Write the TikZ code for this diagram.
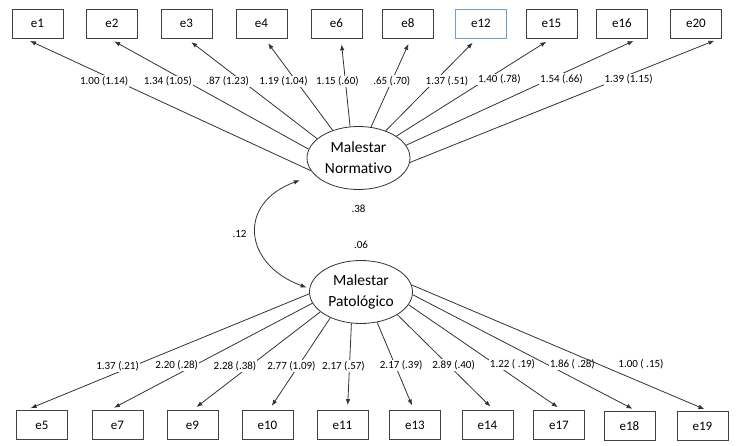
\documentclass[tikz,border=0pt]{standalone}
\usepackage{fontspec}
\setmainfont{Carlito}[Ligatures=NoCommon]
\usetikzlibrary{arrows.meta,positioning,shapes.geometric}
\definecolor{boxblue}{RGB}{110,160,205}

\begin{document}
\begin{tikzpicture}[x=1pt,y=-1pt,line width=.8pt,draw=black!80,>={Latex[length=6pt,width=4.5pt]},
err node/.style={rectangle,draw=black!75,minimum width=51pt,minimum height=29pt,inner sep=0pt,font=\fontsize{13}{15}\selectfont},
lat node/.style={ellipse,draw=black!80,minimum width=103pt,minimum height=63pt,inner sep=0pt,align=center,font=\fontsize{15.5}{21}\selectfont},
lbl/.style={fill=white,inner sep=1pt,font=\fontsize{11}{13}\selectfont}]
\useasboundingbox (0,0) rectangle (737,446);
\begin{scope}
\node[err node] (e1) at (37.5,23.5) {e1};
\node[err node] (e2) at (112,23.5) {e2};
\node[err node] (e3) at (186.5,23.5) {e3};
\node[err node] (e4) at (261.5,23.5) {e4};
\node[err node] (e6) at (336.5,23.5) {e6};
\node[err node] (e8) at (408,23.5) {e8};
\node[err node,draw=boxblue] (e12) at (481,23.5) {e12};
\node[err node] (e15) at (551.5,23.5) {e15};
\node[err node] (e16) at (622,23.5) {e16};
\node[err node] (e20) at (696,23.5) {e20};
\node[lat node] (mn) at (358.5,158) {Malestar\\Normativo};
\node[lat node] (mp) at (361,292) {Malestar\\Patológico};
\node[err node] (e5) at (42,425) {e5};
\node[err node] (e7) at (117.5,425) {e7};
\node[err node] (e9) at (192.5,425) {e9};
\node[err node] (e10) at (267.5,425) {e10};
\node[err node] (e11) at (342.5,425) {e11};
\node[err node] (e13) at (415,425) {e13};
\node[err node] (e14) at (487.5,425) {e14};
\node[err node] (e17) at (559,425) {e17};
\node[err node] (e18) at (629.5,426) {e18};
\node[err node] (e19) at (702.5,426) {e19};
\node[lbl,below=14pt of mn] (r1) {.38};
\node[lbl,above=10pt of mp] (r2) {.06};
\end{scope}
\begin{scope}[every edge/.append style={->,shorten >=6pt}]
\draw (mn.195) edge node[lbl,pos=.68,xshift=-12pt]{1.00 (1.14)} ([xshift=-13pt]e1.south)
  (mn.170) edge node[lbl,pos=.61,xshift=-19pt]{1.34 (1.05)} ([xshift=-3pt]e2.south)
  (mn.155) edge node[lbl,pos=.57,xshift=-15pt]{.87 (1.23)} (e3.south)
  (mn.133) edge node[lbl,pos=.53,xshift=-13pt]{1.19 (1.04)} ([xshift=3pt]e4.south)
  (mn.105) edge node[lbl,pos=.51,xshift=-8pt]{1.15 (.60)} ([xshift=4.5pt]e6.south)
  (mn.68) edge node[lbl,pos=.52]{.65 (.70)} ([xshift=3pt]e8.south)
  (mn.45) edge node[lbl,pos=.54,xshift=12pt]{1.37 (.51)} ([xshift=-4pt]e12.south)
  (mn.30) edge node[lbl,pos=.58,xshift=13pt]{1.40 (.78)} (e15.south)
  (mn.15) edge node[lbl,pos=.62,xshift=11pt]{1.54 (.66)} ([xshift=17pt]e16.south)
  (mn.-5) edge node[lbl,pos=.67,xshift=11pt]{1.39 (1.15)} ([xshift=24pt]e20.south);
\end{scope}
\begin{scope}[every edge/.append style={->,shorten >=5pt}]
\draw (mp.182) edge node[lbl,pos=.62,xshift=-16pt]{1.37 (.21)} ([xshift=-16pt]e5.north)
  (mp.193) edge node[lbl,pos=.58,xshift=-18pt]{2.20 (.28)} ([xshift=-8pt]e7.north)
  (mp.206) edge node[lbl,pos=.55,xshift=-15pt]{2.28 (.38)} (e9.north)
  (mp.220) edge node[lbl,pos=.52,xshift=-7pt]{2.77 (1.09)} ([xshift=1.5pt]e10.north)
  (mp.253) edge node[lbl,pos=.49,xshift=-6pt]{2.17 (.57)} ([xshift=5pt]e11.north)
  (mp.298) edge node[lbl,pos=.49,xshift=6pt]{2.17 (.39)} ([xshift=-1pt]e13.north)
  (mp.328) edge node[lbl,pos=.53,xshift=5pt]{2.89 (.40)} ([xshift=6.5pt]e14.north)
  (mp.345) edge node[lbl,pos=.56,xshift=18pt]{1.22 ( .19)} ([xshift=3pt]e17.north)
  (mp.357) edge node[lbl,pos=.60,xshift=25pt]{1.86 ( .28)} ([xshift=7.5pt]e18.north)
  (mp.8) edge node[lbl,pos=.63,xshift=42pt]{1.00 ( .15)} ([xshift=6.5pt]e19.north);
\end{scope}
\draw[<->] ([xshift=-14pt,yshift=-6pt]mn.200) to[out=200,in=160,looseness=1.6] node[lbl,left=8pt]{.12} ([xshift=-3pt]mp.175);
\end{tikzpicture}
\end{document}
